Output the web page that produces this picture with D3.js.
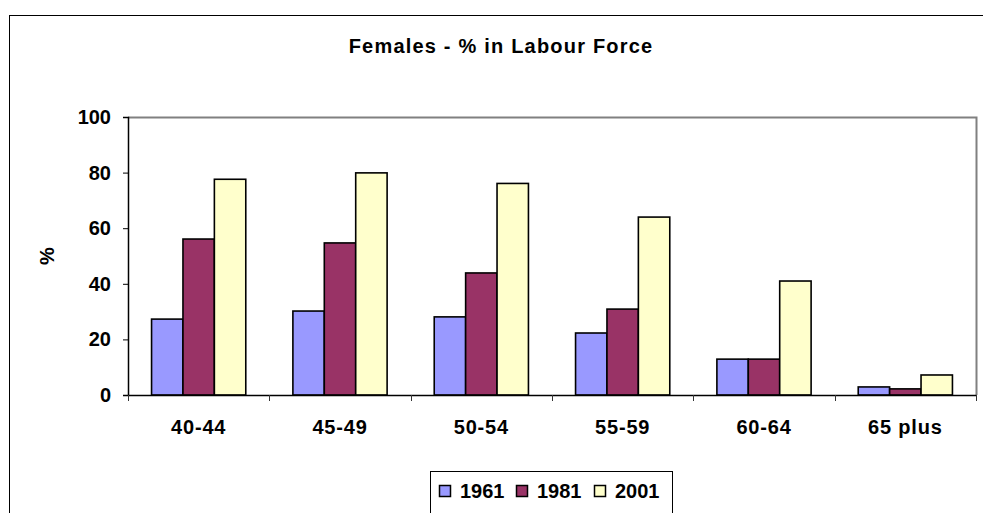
<!DOCTYPE html>
<html>
<head>
<meta charset="utf-8">
<script src="https://cdn.jsdelivr.net/npm/d3@7"></script>
<style>
  html, body { margin: 0; padding: 0; background: #fff; }
  svg { display: block; font-family: "Liberation Sans", Arial, sans-serif; font-weight: bold; }
</style>
</head>
<body>
<svg id="canvas" width="983" height="513"></svg>
<script>
// chart data
let categories = ['40-44', '45-49', '50-54', '55-59', '60-64', '65 plus'];
let seriesNames = ['1961', '1981', '2001'];
let values1961 = [27.3, 30.2, 28.1, 22.3, 12.9, 2.9];
let values1981 = [56.1, 54.7, 43.9, 30.9, 12.9, 2.2];
let values2001 = [77.6, 79.9, 76.1, 64.0, 41.0, 7.2];
let yTicks = [0, 20, 40, 60, 80, 100];
let colors = ['#9999ff', '#993366', '#ffffcc'];

let canvas = d3.select('#canvas');

let plot = { left: 128, top: 117, right: 976, bottom: 395 };

let rows = categories.map((cat, i) => {
    return { cat: cat, vals: [values1961[i], values1981[i], values2001[i]] };
});

// outer chart frame
canvas.append('rect')
    .attr('x', 9.5).attr('y', 15.5)
    .attr('width', 1000).attr('height', 600)
    .attr('fill', 'none')
    .attr('stroke', '#000')
    .attr('stroke-width', 1);

// title
canvas.append('text')
    .text('Females - % in Labour Force')
    .attr('x', 501)
    .attr('y', 53)
    .attr('text-anchor', 'middle')
    .style('font-size', '20px')
    .style('letter-spacing', '1.2px');

let x = d3.scaleBand()
    .domain(categories)
    .range([plot.left, plot.right])
    .paddingInner(0)
    .paddingOuter(0);

let xInner = d3.scaleBand()
    .domain(seriesNames)
    .range([0, x.bandwidth()])
    .paddingInner(0)
    .paddingOuter(0.75);

let y = d3.scaleLinear()
    .domain([0, 100])
    .range([plot.bottom, plot.top]);

// plot area border (top and right, grey)
canvas.append('path')
    .attr('d', 'M' + plot.left + ',' + (plot.top + 0.5) + 'H' + (plot.right + 0.5) + 'V' + plot.bottom)
    .attr('fill', 'none')
    .attr('stroke', '#808080')
    .attr('stroke-width', 2);

// bars
let groups = canvas.selectAll('g.group')
    .data(rows)
    .enter()
    .append('g')
    .attr('class', 'group')
    .attr('transform', (d) => {
        return 'translate(' + x(d.cat) + ',0)';
    });

groups.selectAll('rect')
    .data((d) => {
        return d.vals.map((v, i) => { return { name: seriesNames[i], value: v, idx: i }; });
    })
    .enter()
    .append('rect')
    .attr('x', (d) => { return xInner(d.name); })
    .attr('y', (d) => { return y(d.value); })
    .attr('width', xInner.bandwidth())
    .attr('height', (d) => { return y(0) - y(d.value); })
    .attr('fill', (d) => { return colors[d.idx]; })
    .attr('stroke', '#000')
    .attr('stroke-width', 1.6);

// y axis
let yAxis = canvas.append('g')
    .attr('transform', 'translate(' + plot.left + ',0)')
    .call(d3.axisLeft(y).tickValues(yTicks).tickSize(5).tickPadding(12));
yAxis.select('.domain').attr('stroke', '#000').attr('stroke-width', 1.5);
yAxis.selectAll('.tick line').attr('stroke', '#000');
yAxis.selectAll('.tick text')
    .style('font-size', '20px')
    .style('font-family', '"Liberation Sans", Arial, sans-serif')
    .style('font-weight', 'bold')
    .attr('fill', '#000');

// x axis
let xAxis = canvas.append('g')
    .attr('transform', 'translate(0,' + plot.bottom + ')')
    .call(d3.axisBottom(x).tickSize(0).tickPadding(25));
xAxis.select('.domain').attr('stroke', '#000').attr('stroke-width', 1.5);
xAxis.selectAll('.tick text')
    .style('font-size', '20px')
    .style('font-family', '"Liberation Sans", Arial, sans-serif')
    .style('font-weight', 'bold')
    .style('letter-spacing', '0.8px')
    .attr('fill', '#000');

// category boundary ticks
let boundaries = categories.map((c) => { return x(c); }).concat([plot.right]);
canvas.selectAll('line.xtick')
    .data(boundaries)
    .enter()
    .append('line')
    .attr('class', 'xtick')
    .attr('x1', (d) => { return Math.round(d) + 0.5; })
    .attr('x2', (d) => { return Math.round(d) + 0.5; })
    .attr('y1', plot.bottom)
    .attr('y2', plot.bottom + 6)
    .attr('stroke', '#333');

// y axis title
canvas.append('text')
    .text('%')
    .attr('transform', 'translate(54,256) rotate(-90)')
    .attr('text-anchor', 'middle')
    .style('font-size', '20px');

// legend
let legend = canvas.append('g');
legend.append('rect')
    .attr('x', 430.5).attr('y', 471.5)
    .attr('width', 242).attr('height', 60)
    .attr('fill', '#fff')
    .attr('stroke', '#000');

let legendX = [439, 516, 594];
let items = legend.selectAll('g.item')
    .data(seriesNames)
    .enter()
    .append('g')
    .attr('class', 'item')
    .attr('transform', (d, i) => { return 'translate(' + legendX[i] + ',0)'; });

items.append('rect')
    .attr('x', 0.5).attr('y', 485.5)
    .attr('width', 11).attr('height', 11)
    .attr('fill', (d, i) => { return colors[i]; })
    .attr('stroke', '#000')
    .attr('stroke-width', 1.5);

items.append('text')
    .text((d) => { return d; })
    .attr('x', 21)
    .attr('y', 498)
    .style('font-size', '20px');
</script>
</body>
</html>
